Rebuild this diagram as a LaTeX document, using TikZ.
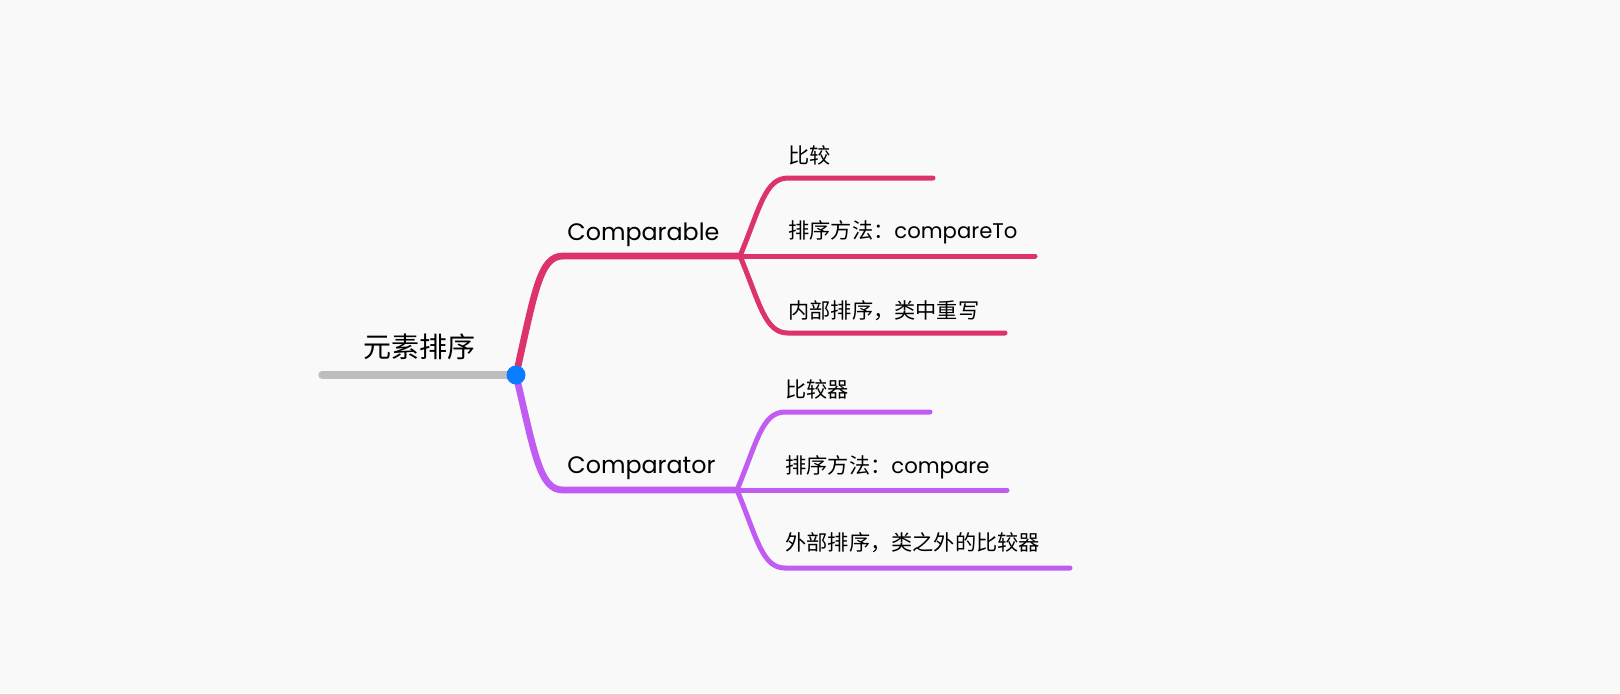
\documentclass[tikz,border=0pt]{standalone}
\usepackage{fontspec}
\setmainfont{Poppins}
\newfontfamily\cjk{Noto Sans CJK SC}
\usetikzlibrary{positioning}

\definecolor{bgcol}{HTML}{F9F9F9}
\definecolor{rootcol}{HTML}{BDBDBD}
\definecolor{hubcol}{HTML}{0A7CFF}
\definecolor{ablecol}{HTML}{DD336D}
\definecolor{atorcol}{HTML}{C05CF2}

\tikzset{
  trunk/.style={line width=3.4pt, line cap=round},
  twig/.style={line width=2.5pt, line cap=round},
  mainlabel/.style={inner sep=0pt, font=\fontsize{11.9pt}{14pt}\selectfont},
  leaflabel/.style={inner sep=0pt, anchor=west, font=\fontsize{10.6pt}{12pt}\selectfont},
}

\begin{document}
\begin{tikzpicture}[x=0.5pt, y=-0.5pt]

  % Canvas
  \fill[bgcol] (0,0) rectangle (1620,693);
  \useasboundingbox (0,0) rectangle (1620,693);

  % Root
  \coordinate (rootstart) at (322,375);
  \coordinate (hubpt) at (516,375);
  \node[inner sep=0pt, font=\fontsize{14pt}{16pt}\selectfont\cjk] (root) at (419,347) {元素排序};

  % Comparable branch
  \coordinate (ablestart) at (563,256);
  \coordinate (ablejoint) at (740,256);
  \node[mainlabel, anchor=base west] (able) at (567,240) {Comparable};
  \node[leaflabel] (able1) at (788,155) {\cjk 比较};
  \node[leaflabel] (able2) at (788,232) {{\cjk 排序方法：}compareTo};
  \node[leaflabel] (able3) at (788,311) {\cjk 内部排序，类中重写};
  \coordinate (able1end) at (933,178);
  \coordinate (able2end) at (1035,256);
  \coordinate (able3end) at (1005,333);

  % Comparator branch
  \coordinate (atorstart) at (563,490);
  \coordinate (atorjoint) at (737,490);
  \node[mainlabel, anchor=base west] (ator) at (567,473) {Comparator};
  \node[leaflabel] (ator1) at (785,389) {\cjk 比较器};
  \node[leaflabel] (ator2) at (785,467) {{\cjk 排序方法：}compare};
  \node[leaflabel] (ator3) at (785,543) {\cjk 外部排序，类之外的比较器};
  \coordinate (ator1end) at (930,412);
  \coordinate (ator2end) at (1007,490);
  \coordinate (ator3end) at (1070,568);

  % Connect the nodes
  \draw[trunk, rootcol, line width=3.6pt] (rootstart) -- (hubpt);
  \draw[trunk, ablecol] (hubpt) .. controls (535,290) and (540,256) .. (ablestart) -- (ablejoint);
  \draw[trunk, atorcol] (hubpt) .. controls (535,456) and (540,490) .. (atorstart) -- (atorjoint);

  \draw[twig, ablecol] (ablejoint) .. controls (760,208) and (765,178) .. (able1end -| able1.west) -- (able1end);
  \draw[twig, ablecol] (ablejoint) -- (able2end);
  \draw[twig, ablecol] (ablejoint) .. controls (760,304) and (765,333) .. (able3end -| able3.west) -- (able3end);

  \draw[twig, atorcol] (atorjoint) .. controls (757,442) and (762,412) .. (ator1end -| ator1.west) -- (ator1end);
  \draw[twig, atorcol] (atorjoint) -- (ator2end);
  \draw[twig, atorcol] (atorjoint) .. controls (757,538) and (762,568) .. (ator3end -| ator3.west) -- (ator3end);

  % Hub dot on top
  \node[circle, fill=hubcol, inner sep=0pt, minimum size=9.5pt] (hub) at (hubpt) {};

\end{tikzpicture}
\end{document}
